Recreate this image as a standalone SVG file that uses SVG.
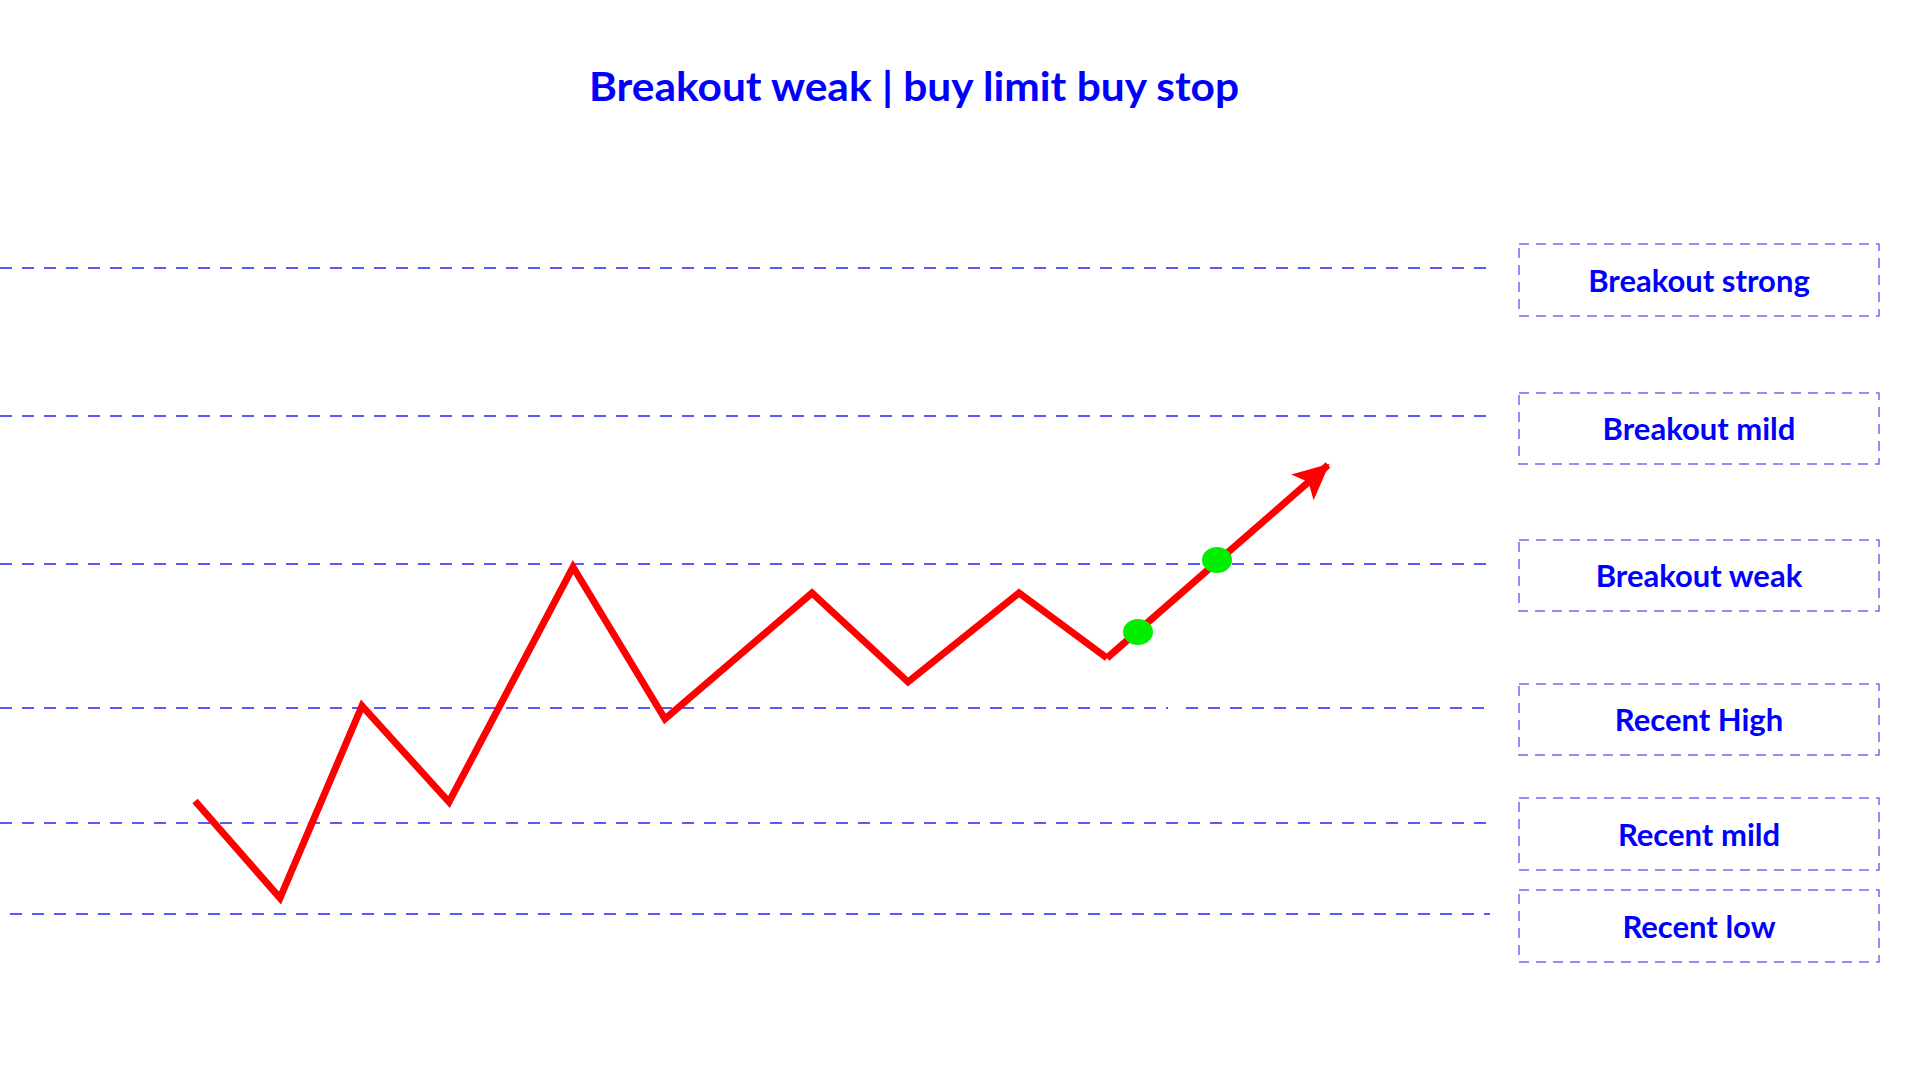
<svg xmlns="http://www.w3.org/2000/svg" width="1920" height="1080" viewBox="0 0 1920 1080">
<style>
.lvl{stroke:#5a5aff;stroke-width:1.8;stroke-dasharray:12 10;fill:none}
.box{fill:none;stroke:#6a6aff;stroke-width:1.5;stroke-dasharray:10 7}
.lbl{font-family:Lato,"Open Sans","Liberation Sans",sans-serif;font-weight:bold;font-size:31px;fill:#0000ff;text-anchor:middle}
.title{font-family:Lato,"Open Sans","Liberation Sans",sans-serif;font-weight:bold;font-size:41px;fill:#0000ff;text-anchor:middle}
.price{fill:none;stroke:#ff0000;stroke-width:7;stroke-linejoin:miter}
.dot{fill:#00ee00}
</style>
<defs>
<marker id="ah" markerUnits="userSpaceOnUse" markerWidth="40" markerHeight="40" refX="34" refY="17" orient="auto">
<path d="M0,0 L36,17 L0,34 L8,17 Z" fill="#ff0000"/>
</marker>
</defs>
<rect width="1920" height="1080" fill="#ffffff"/>
<text class="title" x="914" y="101" textLength="650" lengthAdjust="spacingAndGlyphs">Breakout weak | buy limit buy stop</text>
<g id="levels">
<line class="lvl" x1="0" y1="268" x2="1490" y2="268"/>
<line class="lvl" x1="0" y1="416" x2="1490" y2="416"/>
<line class="lvl" x1="0" y1="564" x2="1490" y2="564"/>
<line class="lvl" x1="0" y1="708" x2="1168" y2="708"/>
<line class="lvl" x1="1186" y1="708" x2="1490" y2="708"/>
<line class="lvl" x1="0" y1="823" x2="1490" y2="823"/>
<line class="lvl" x1="10" y1="914" x2="1490" y2="914"/>
</g>
<g id="node-breakout-strong">
<rect class="box" x="1519" y="244" width="360" height="72"/>
<text class="lbl" x="1699" y="292">Breakout strong</text>
</g>
<g id="node-breakout-mild">
<rect class="box" x="1519" y="393" width="360" height="71"/>
<text class="lbl" x="1699" y="440">Breakout mild</text>
</g>
<g id="node-breakout-weak">
<rect class="box" x="1519" y="540" width="360" height="71"/>
<text class="lbl" x="1699" y="587">Breakout weak</text>
</g>
<g id="node-recent-high">
<rect class="box" x="1519" y="684" width="360" height="71"/>
<text class="lbl" x="1699" y="731">Recent High</text>
</g>
<g id="node-recent-mild">
<rect class="box" x="1519" y="798" width="360" height="72"/>
<text class="lbl" x="1699" y="846">Recent mild</text>
</g>
<g id="node-recent-low">
<rect class="box" x="1519" y="890" width="360" height="72"/>
<text class="lbl" x="1699" y="938">Recent low</text>
</g>
<g id="connectors">
<polyline class="price" points="195,801 280,898 362,706 449,802 573,567 665,719 812,593 908,682 1019,593 1107,658"/>
<line class="price" x1="1107" y1="658" x2="1328" y2="465" stroke-linecap="butt" marker-end="url(#ah)"/>
</g>
<g id="entries">
<ellipse class="dot" cx="1138" cy="632" rx="15" ry="13"/>
<ellipse class="dot" cx="1217" cy="560" rx="15" ry="13"/>
</g>
</svg>
